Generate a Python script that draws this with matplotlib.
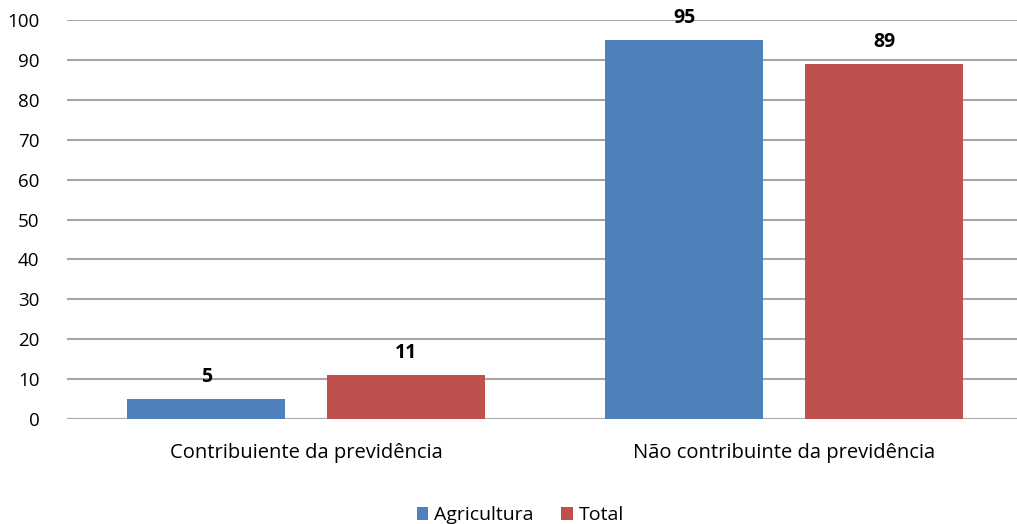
import numpy as np
import matplotlib.pyplot as plt

plt.rcParams['font.family'] = ['Open Sans', 'DejaVu Sans']

categories = ['Contribuiente da previdência', 'Não contribuinte da previdência']
agricultura = [5, 95]
total = [11, 89]

fig = plt.figure(figsize=(10.17, 5.24), dpi=100)
ax = fig.add_axes([0.066, 0.2004, 0.934, 0.7614])

x = np.arange(len(categories))
w = 0.33
off = 0.209
b1 = ax.bar(x - off, agricultura, w, color='#4F81BD', label='Agricultura', zorder=3)
b2 = ax.bar(x + off, total, w, color='#C0504D', label='Total', zorder=3)

for bars in (b1, b2):
    for r in bars:
        ax.text(r.get_x() + r.get_width() / 2, r.get_height() + 5.5, f'{r.get_height():g}',
                ha='center', va='center', fontsize=14, fontweight='bold', color='black', zorder=4)

ax.set_xlim(-0.5, 1.487)
ax.set_ylim(0, 100)
ax.set_yticks(range(0, 101, 10))
ax.set_xticks(x)
ax.set_xticklabels(categories, fontsize=14.5)
ax.tick_params(axis='y', labelsize=13.5, length=0, pad=20)
ax.tick_params(axis='x', length=0, pad=17)
ax.grid(axis='y', color='#A6A6A6', linewidth=1.5, zorder=0)
for s in ax.spines.values():
    s.set_visible(False)

ax.legend(loc='upper center', bbox_to_anchor=(0.477, -0.175), ncol=2, frameon=False,
          fontsize=14, handlelength=0.6, handleheight=0.6, handletextpad=0.3, columnspacing=1.4)

fig.savefig('out.png', dpi=100)
